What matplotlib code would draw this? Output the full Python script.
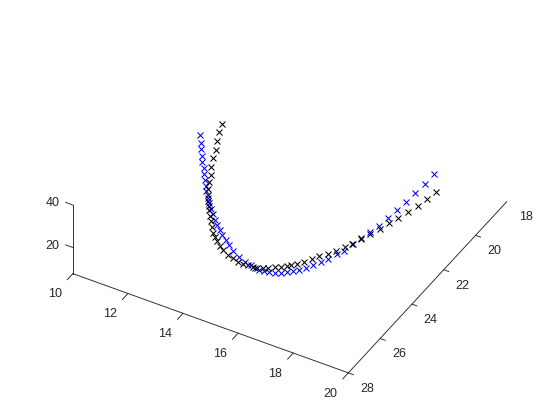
import matplotlib
matplotlib.use('Agg')
import matplotlib.pyplot as plt
from mpl_toolkits.mplot3d import proj3d

# axis limits and ticks
x_lim = (10, 20)
y_lim = (28, 18)  # y runs backwards
z_lim = (7.7, 40)
x_ticks = [10, 12, 14, 16, 18, 20]
y_ticks = [18, 20, 22, 24, 26, 28]
z_ticks = [20, 40]

# black series
x_black = [11.91, 11.94, 12.00, 12.09, 12.10, 12.18, 12.25, 12.29, 12.38, 12.45, 12.51, 12.59, 12.66,
           12.77, 12.89, 13.01, 13.13, 13.25, 13.40, 13.57, 13.73, 13.97, 14.16, 14.37, 14.54, 14.71,
           14.86, 14.99, 15.17, 15.29, 15.46, 15.61, 15.76, 15.85, 15.98, 16.13, 16.28, 16.40, 16.56,
           16.71, 16.86, 16.98, 17.10, 17.21, 17.35, 17.45, 17.57, 17.69, 17.81, 17.88, 17.96]
y_black = [21.91, 22.15, 22.39, 22.63, 22.81, 23.06, 23.23, 23.40, 23.62, 23.74, 23.83, 23.95, 24.05,
           24.19, 24.32, 24.45, 24.60, 24.70, 24.81, 24.94, 25.01, 25.11, 25.12, 25.17, 25.15, 25.14,
           25.10, 25.06, 24.98, 24.88, 24.75, 24.64, 24.53, 24.43, 24.25, 24.06, 23.82, 23.59, 23.33,
           23.08, 22.80, 22.51, 22.17, 21.79, 21.44, 21.05, 20.69, 20.26, 19.84, 19.39, 18.93]
z_black = [38, 36, 34, 32, 30, 28, 26, 24.5, 23, 21.5, 20, 19, 18, 17, 16, 15, 14, 13.5, 13, 12.5, 12,
           11.5, 11, 10.8, 10.6, 10.4, 10.2, 10, 10, 10, 10, 10, 10, 10, 10, 10, 10, 10, 10, 10, 10,
           10, 10, 10, 10, 10, 10, 10, 10, 10, 10]

# blue series
x_blue = [11.66, 11.75, 11.83, 11.89, 11.96, 12.05, 12.12, 12.21, 12.30, 12.38, 12.49, 12.59, 12.73,
          12.86, 13.01, 13.16, 13.31, 13.44, 13.62, 13.82, 14.06, 14.34, 14.60, 14.80, 14.97, 15.10,
          15.27, 15.44, 15.61, 15.77, 15.91, 16.07, 16.19, 16.33, 16.46, 16.59, 16.70, 16.82, 16.94,
          17.00, 17.08, 17.16, 17.26, 17.30, 17.34, 17.37, 17.40, 17.44, 17.44]
y_blue = [22.86, 23.00, 23.09, 23.17, 23.26, 23.30, 23.42, 23.52, 23.63, 23.72, 23.84, 23.93, 24.06,
          24.16, 24.28, 24.40, 24.48, 24.57, 24.67, 24.80, 24.95, 25.07, 25.15, 25.14, 25.16, 25.11,
          25.11, 25.07, 25.01, 24.92, 24.80, 24.65, 24.48, 24.28, 24.07, 23.83, 23.54, 23.23, 22.95,
          22.54, 22.14, 21.74, 21.32, 20.84, 20.35, 19.84, 19.32, 18.77, 18.18]
z_blue = [39, 37, 35, 33, 31, 29, 27.5, 26, 24.5, 23, 21.5, 20, 19, 18, 17, 16, 15, 14, 13.5, 13, 12.5,
          12, 11.5, 11, 10.5, 10, 10, 10, 10, 10, 10, 10, 10, 10, 10, 10, 10, 10, 10, 10, 10, 10, 10,
          10, 10, 10, 10, 10, 10]

axis_color = '#262626'
plt.rcParams['font.family'] = ['Liberation Sans', 'DejaVu Sans']

fig = plt.figure(figsize=(5.6, 4.2), dpi=100)
# square box centred on the projected cube
size = 445
ax = fig.add_axes([(284.1 - size / 2) / 560, (420 - 209.0 - size / 2) / 420, size / 560, size / 420],
                  projection='3d', proj_type='ortho')
ax.computed_zorder = False
ax.set_box_aspect((317, 317, 87.5))
ax.view_init(elev=38.6, azim=-60)
ax.set_axis_off()

ax.plot(x_blue, y_blue, z_blue, 'x', color=(0, 0, 1), ms=4, mew=0.75, zorder=2)
ax.plot(x_black, y_black, z_black, 'x', color='k', ms=4, mew=0.75, zorder=3)

ax.set_xlim(*x_lim, view_margin=0)
ax.set_ylim(*y_lim, view_margin=0)
ax.set_zlim(*z_lim, view_margin=0)


def axis_line(xs, ys, zs):
    ax.plot(xs, ys, zs, color=axis_color, lw=0.65, zorder=1)


def tick_label(x, y, z, s):
    # Text3D has no usable extent, so place the label in projected coordinates
    px, py, _ = proj3d.proj_transform(x, y, z, ax.get_proj())
    ax.text2D(px, py, s, color=axis_color, fontsize=9, ha='center', va='center')


# axes lines
axis_line(x_lim, [y_lim[0]] * 2, [z_lim[0]] * 2)
axis_line([x_lim[1]] * 2, y_lim, [z_lim[0]] * 2)
axis_line([x_lim[0]] * 2, [y_lim[0]] * 2, [z_lim[0], z_lim[1]])

# ticks and labels
for t in x_ticks:
    axis_line([t, t], [28, 28.35], [z_lim[0]] * 2)
    tick_label(t, 29.12, z_lim[0] - 0.7, str(t))
for t in y_ticks:
    axis_line([20, 20.18], [t, t], [z_lim[0]] * 2)
    tick_label(20.68, t, 3.4, str(t))
for t in z_ticks:
    axis_line([10, 9.74], [28, 28], [t, t])
    tick_label(9.27, 28, t - 2.7, str(t))

ax.set_xlim(*x_lim, view_margin=0)
ax.set_ylim(*y_lim, view_margin=0)
ax.set_zlim(*z_lim, view_margin=0)

fig.savefig('out.png', dpi=100)
